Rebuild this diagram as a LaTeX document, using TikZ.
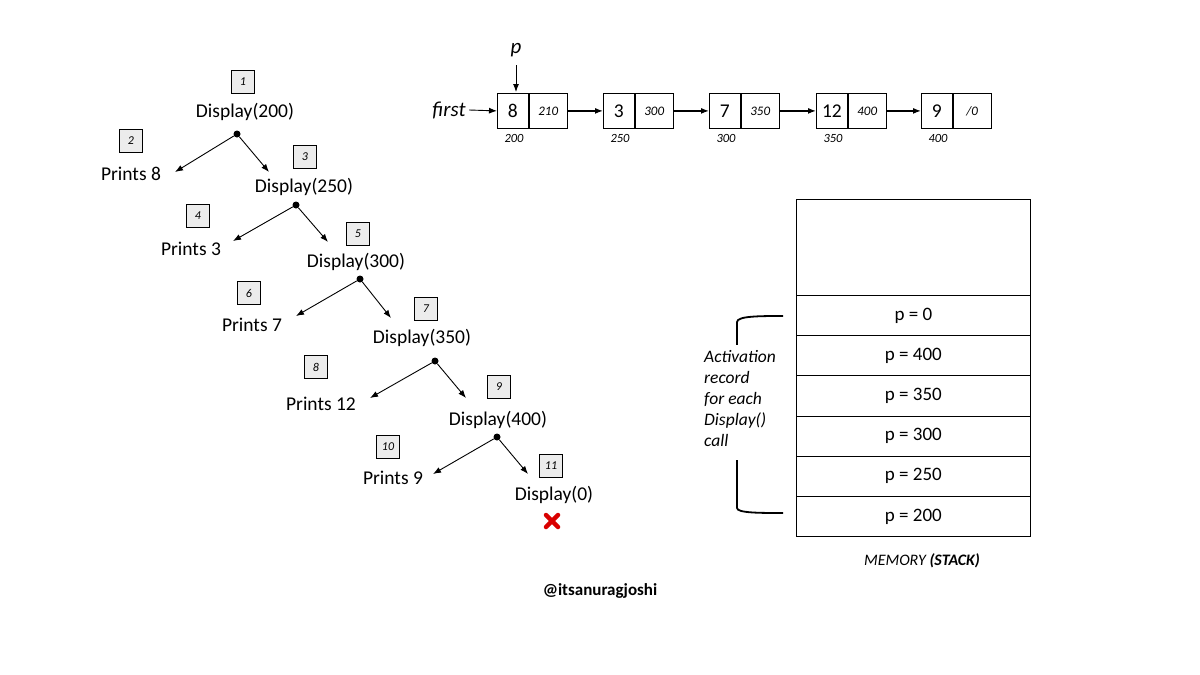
\documentclass[tikz,border=0pt]{standalone}
\usepackage{fontspec}
\setmainfont{Carlito}
\usetikzlibrary{arrows.meta,calc}
\begin{document}
\begin{tikzpicture}[x=1pt,y=-1pt,
  num/.style={draw,thick,fill=gray!15,minimum size=23pt,inner sep=0,font=\fontsize{12}{12}\selectfont\itshape},
  lbl/.style={font=\fontsize{19.5}{19.5}\selectfont,inner sep=1pt},
  arr/.style={-{Latex[length=8pt,width=6pt]},line width=0.9pt},
  dot/.style={circle,fill,inner sep=0,minimum size=7pt},
  cell/.style={draw,thick,minimum height=35pt,inner sep=0},
  addr/.style={font=\fontsize{12.5}{12.5}\selectfont\itshape},
  srow/.style={draw,thick,minimum width=234pt,minimum height=40.2pt,inner sep=0,font=\fontsize{19}{19}\selectfont}]
\useasboundingbox (0,0) rectangle (1200,675);
\fill[white] (0,0) rectangle (1200,675);
% tree
\node[num] (b1) at (243,82) {1};
\node[lbl] (d1) at (245,112) {Display(200)};
\node[dot] (o1) at (237,134) {};
\coordinate (l1) at (175,172); \coordinate (r1) at (269,172);
\node[num] (b2) at (131,141) {2};
\node[lbl] (p1) at (131,174) {Prints 8};
\node[num] (b3) at (305,157) {3};
\node[lbl] (d2) at (304,187) {Display(250)};
\node[dot] (o2) at (296,205) {};
\coordinate (l2) at (233,241); \coordinate (r2) at (328,242);
\node[num] (b4) at (198,216) {4};
\node[lbl] (p2) at (191,249) {Prints 3};
\node[num] (b5) at (358,234) {5};
\node[lbl] (d3) at (356,262) {Display(300)};
\node[dot] (o3) at (360,279) {};
\coordinate (l3) at (296,316); \coordinate (r3) at (391,318);
\node[num] (b6) at (249,293) {6};
\node[lbl] (p3) at (252,325) {Prints 7};
\node[num] (b7) at (426,309) {7};
\node[lbl] (d4) at (422,338) {Display(350)};
\node[dot] (o4) at (435,361) {};
\coordinate (l4) at (370,398); \coordinate (r4) at (466,398);
\node[num] (b8) at (316,367) {8};
\node[lbl] (p4) at (321,404) {Prints 12};
\node[num] (b9) at (499,387) {9};
\node[lbl] (d5) at (498,420) {Display(400)};
\node[dot] (o5) at (497,437) {};
\coordinate (l5) at (433,474); \coordinate (r5) at (528,474);
\node[num] (b10) at (388,447) {10};
\node[lbl] (p5) at (393,478) {Prints 9};
\node[num] (b11) at (551,466) {11};
\node[lbl] (d6) at (554,495) {Display(0)};
\coordinate (x) at (552,521);
\draw[red!85!black,line width=4.5pt,line cap=round] ($(x)+(-6,-6)$) -- ($(x)+(6,6)$) ($(x)+(-6,6)$) -- ($(x)+(6,-6)$);
\foreach \i in {1,...,5}{\draw[arr] (o\i) -- (l\i); \draw[arr] (o\i) -- (r\i);}
\node[font=\fontsize{17}{17}\selectfont\bfseries] (w) at (600,591) {@itsanuragjoshi};
% list
\foreach \n/\x/\v/\q/\a in {1/497/8/210/200,2/603/3/300/250,3/709/7/350/300,4/816/12/400/350,5/921/9/{/0}/400}{
  \node[cell,minimum width=31pt,anchor=north west,font=\fontsize{19.5}{19.5}\selectfont] (v\n) at (\x,93) {\v};
  \node[cell,minimum width=38pt,anchor=north west,font=\fontsize{13}{13}\selectfont\itshape] (n\n) at (v\n.north east) {\q};
  \node[addr] (a\n) at (\x+17,138) {\a};
}
\foreach \i/\j in {1/2,2/3,3/4,4/5}{\draw[arr,line width=1.3pt] (n\i) -- (v\j);}
\node[font=\fontsize{21}{21}\selectfont\itshape] (pp) at (516,50) {p};
\coordinate (pt) at (516,92);
\draw[arr] (516,65) -- (pt);
\node[font=\fontsize{21}{21}\selectfont\itshape] (first) at (449,110) {first};
\draw[arr] (first.east) -- (v1.west);
% stack
\draw[thick] (796,199) rectangle (1030,295);
\foreach \i/\t in {0/p = 0,1/p = 400,2/p = 350,3/p = 300,4/p = 250,5/p = 200}{
  \node[srow,anchor=north west] (s\i) at (796,295+40.2*\i) {\t};}
\draw[line width=1.8pt] (783,316) .. controls (760,316) and (737,316) .. (737,322) -- (737,508) .. controls (737,513) and (760,513) .. (783,513);
\node[fill=white,minimum width=98pt,minimum height=115pt,anchor=north west] (tb) at (697,345) {};
\node[align=left,anchor=north west,font=\fontsize{17.5}{21}\selectfont\itshape,inner sep=0] (act) at (704,350) {Activation\\record\\for each\\Display()\\call};
\node[font=\fontsize{16}{16}\selectfont\itshape] (mem) at (922,561) {MEMORY \textbf{(STACK)}};
\end{tikzpicture}
\end{document}
